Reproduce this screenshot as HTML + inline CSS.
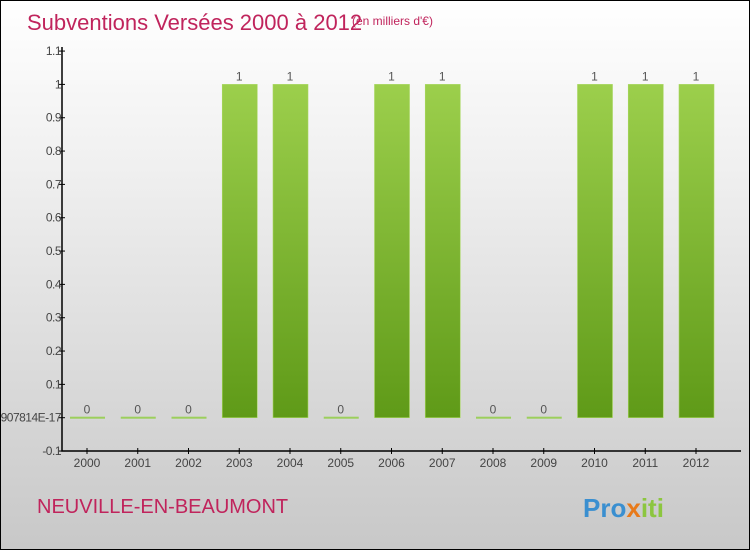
<!DOCTYPE html>
<html><head><meta charset="utf-8"><style>
body{margin:0}
#c{position:relative;width:748px;height:548px;border:1px solid #000;background:linear-gradient(#fff,#f0f0f0 30%,#c8c8c8);font-family:"Liberation Sans",sans-serif;overflow:hidden}
</style></head><body>
<div id="c">
<svg width="748" height="548" id="s">
<text x="26" y="29" font-size="22" fill="#c0245c">Subventions Versées 2000 à 2012</text>
<text x="351" y="24" font-size="12" fill="#c0245c">(en milliers d'€)</text>
<text x="36" y="512" font-size="20" fill="#c0245c">NEUVILLE-EN-BEAUMONT</text>
<g font-size="26" font-weight="bold">
<text x="582" y="516"><tspan fill="#3a8fd0">Pro</tspan><tspan fill="#e87a1a">x</tspan><tspan fill="#8cc63f">iti</tspan></text>
</g>
<g id="g"></g>
</svg>
</div>
<script>
const years=["2000","2001","2002","2003","2004","2005","2006","2007","2008","2009","2010","2011","2012"];
const values=[0,0,0,1,1,0,1,1,0,0,1,1,1];
const ticks=[-0.1,0,0.1,0.2,0.3,0.4,0.5,0.6,0.7,0.8,0.9,1,1.1];
const tickLabels=["-0.1","-2.0816681711907814E-17","0.1","0.2","0.3","0.4","0.5","0.6","0.7","0.8","0.9","1","1.1"];
const NS="http://www.w3.org/2000/svg";
const g=document.getElementById('g');
const y=v=>416.7-v*333.3;
const x=i=>86+i*50.75;
function mk(t,a){const e=document.createElementNS(NS,t);for(const k in a)e.setAttribute(k,a[k]);g.appendChild(e);return e;}
const defs=mk('defs',{});
defs.innerHTML='<linearGradient id="bg" x1="0" y1="0" x2="0" y2="1"><stop offset="0" stop-color="#9ccf4c"/><stop offset="1" stop-color="#5f9a18"/></linearGradient>';
let ax=mk('path',{d:'M61 46V450H740',stroke:'#000',fill:'none','stroke-width':1.5});


ticks.forEach((t,i)=>{
 let l=mk('line',{x1:58,x2:64,y1:y(t),y2:y(t),stroke:'#000'});
 
 
 let tx=mk('text',{x:60,y:y(t)+4,'font-size':12,fill:'#444','text-anchor':'end','letter-spacing':'-0.5'});
 tx.textContent=tickLabels[i];
 
 
});
years.forEach((yr,i)=>{
 const v=values[i];
 let r;
 if(v===0){r=mk('rect',{x:x(i)-17,y:y(0)-1,width:35,height:2,fill:'#9ccf5c'});}
 else{r=mk('rect',{x:x(i)-17,y:y(v),width:35,height:y(0)-y(v),fill:'url(#bg)',stroke:'#a8d860','stroke-width':0.6});}
 
 
 let vl=mk('text',{x:x(i),y:y(v)-4,'font-size':12,fill:'#555','text-anchor':'middle'});
 vl.textContent=String(v);
 
 
 let tk=mk('line',{x1:x(i),x2:x(i),y1:447,y2:453,stroke:'#000'});
 
 
 let xl=mk('text',{x:x(i),y:466,'font-size':12,fill:'#444','text-anchor':'middle'});
 xl.textContent=yr;
 
 
});
</script>
</body></html>
